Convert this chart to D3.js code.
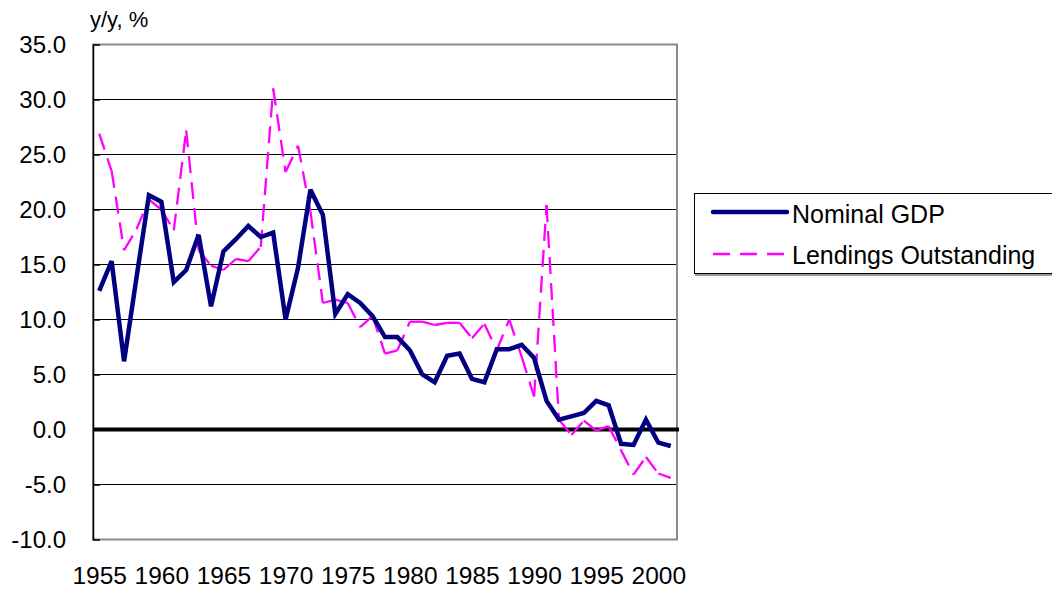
<!DOCTYPE html>
<html>
<head>
<meta charset="utf-8">
<script src="https://cdn.jsdelivr.net/npm/d3@7"></script>
<style>
  html, body { margin: 0; padding: 0; background: #fff; }
  svg { display: block; font-family: Arial, "Liberation Sans", sans-serif; }
</style>
</head>
<body>
<svg id="chart" width="1052" height="592"></svg>
<script>
const years = d3.range(1955, 2002);
const gdp = [12.6, 15.3, 6.2, 13.8, 21.3, 20.7, 13.4, 14.5, 17.7, 11.2,
             16.2, 17.3, 18.5, 17.5, 17.9, 10.0, 14.7, 21.8, 19.5, 10.5,
             12.3, 11.5, 10.3, 8.4, 8.4, 7.2, 5.0, 4.3, 6.7, 6.9,
             4.6, 4.3, 7.3, 7.3, 7.7, 6.5, 2.6, 0.9, 1.2, 1.5,
             2.6, 2.2, -1.3, -1.4, 0.9, -1.2, -1.5];
const lendings = [26.9, 23.5, 16.3, 18.2, 20.9, 20.0, 18.1, 27.2, 16.3, 14.9,
                  14.5, 15.5, 15.3, 16.6, 31.0, 23.4, 25.8, 19.8, 11.5, 11.8,
                  11.5, 9.3, 10.3, 6.9, 7.2, 9.8, 9.8, 9.5, 9.7, 9.7,
                  8.3, 9.6, 7.2, 10.0, 6.6, 3.0, 20.4, 0.9, -0.5, 0.8,
                  -0.1, 0.3, -1.9, -4.1, -2.5, -4.0, -4.4];
const yTicks = [-10, -5, 0, 5, 10, 15, 20, 25, 30, 35];
const xTickYears = [1955, 1960, 1965, 1970, 1975, 1980, 1985, 1990, 1995, 2000];
const seriesNames = ["Nominal GDP", "Lendings Outstanding"];
const yTitle = "y/y, %";

const svg = d3.select("#chart");
const L = 93, R = 677, T = 44.5, B = 539.5;
const FS = 24;

const x = d3.scalePoint().domain(years).range([L, R]).padding(0.5);
const y = d3.scaleLinear().domain([-10, 35]).range([B, T]);

// gridlines
svg.append("g").selectAll("line")
  .data(yTicks.filter(v => v !== 0 && v !== 35 && v !== -10))
  .join("line")
  .attr("x1", L).attr("x2", R)
  .attr("y1", d => y(d)).attr("y2", d => y(d))
  .attr("stroke", "#000").attr("stroke-width", 1);

// plot border (gray)
svg.append("rect")
  .attr("x", L).attr("y", T).attr("width", R - L).attr("height", B - T)
  .attr("fill", "none").attr("stroke", "#8a8a8a").attr("stroke-width", 2);

// y axis
const yAxis = d3.axisLeft(y).tickValues(yTicks).tickFormat(d => d.toFixed(1))
  .tickSizeInner(-7).tickSizeOuter(0).tickPadding(27);
const gy = svg.append("g").attr("transform", `translate(${L},0)`).call(yAxis);
gy.select(".domain").attr("stroke", "#000").attr("stroke-width", 1.5);
gy.selectAll(".tick line").attr("stroke", "#000").attr("stroke-width", 1.5);
gy.selectAll("text").attr("font-size", FS).attr("fill", "#000")
  .attr("font-family", "Arial, 'Liberation Sans', sans-serif");

// x axis labels
const xAxis = d3.axisBottom(x).tickValues(xTickYears).tickFormat(d => String(d))
  .tickSize(0).tickPadding(27);
const gx = svg.append("g").attr("transform", `translate(0,${B})`).call(xAxis);
gx.select(".domain").remove();
gx.selectAll("text").attr("font-size", 24.5).attr("fill", "#000")
  .attr("font-family", "Arial, 'Liberation Sans', sans-serif");

// zero line
svg.append("line")
  .attr("x1", L).attr("x2", R + 2).attr("y1", y(0)).attr("y2", y(0))
  .attr("stroke", "#000").attr("stroke-width", 4);

// y title
svg.append("text").attr("x", 90).attr("y", 27)
  .attr("font-size", FS - 2).attr("fill", "#000").text(yTitle);

// lendings: dashed, dash pattern restarting at each vertex
const pairs = d3.pairs(years.map((yr, i) => [x(yr), y(lendings[i])]));
svg.append("g").selectAll("line").data(pairs).join("line")
  .attr("x1", d => d[0][0]).attr("y1", d => d[0][1])
  .attr("x2", d => d[1][0]).attr("y2", d => d[1][1])
  .attr("stroke", "#ff00ff").attr("stroke-width", 2.3)
  .attr("stroke-dasharray", "17,9");

// GDP line
const line = d3.line().x((d, i) => x(years[i])).y(d => y(d));
svg.append("path").datum(gdp).attr("d", line)
  .attr("fill", "none").attr("stroke", "#000080")
  .attr("stroke-width", 4.5).attr("stroke-linejoin", "miter").attr("stroke-miterlimit", 3);

// legend
const lg = svg.append("g");
lg.append("rect").attr("x", 694.5).attr("y", 193.5).attr("width", 360).attr("height", 80)
  .attr("fill", "#fff").attr("stroke", "#000").attr("stroke-width", 1);
lg.append("line").attr("x1", 695).attr("x2", 1052).attr("y1", 275).attr("y2", 275)
  .attr("stroke", "#777").attr("stroke-width", 1.5);
lg.append("line").attr("x1", 713).attr("x2", 787).attr("y1", 212).attr("y2", 212)
  .attr("stroke", "#000080").attr("stroke-width", 4.5).attr("stroke-linecap", "round");
lg.append("line").attr("x1", 713).attr("x2", 785).attr("y1", 254).attr("y2", 254)
  .attr("stroke", "#ff00ff").attr("stroke-width", 2.3).attr("stroke-dasharray", "17,10");
lg.append("text").attr("x", 792).attr("y", 223).attr("font-size", 25).attr("fill", "#000").text(seriesNames[0]);
lg.append("text").attr("x", 792).attr("y", 264).attr("font-size", 25).attr("fill", "#000").text(seriesNames[1]);
</script>
</body>
</html>
